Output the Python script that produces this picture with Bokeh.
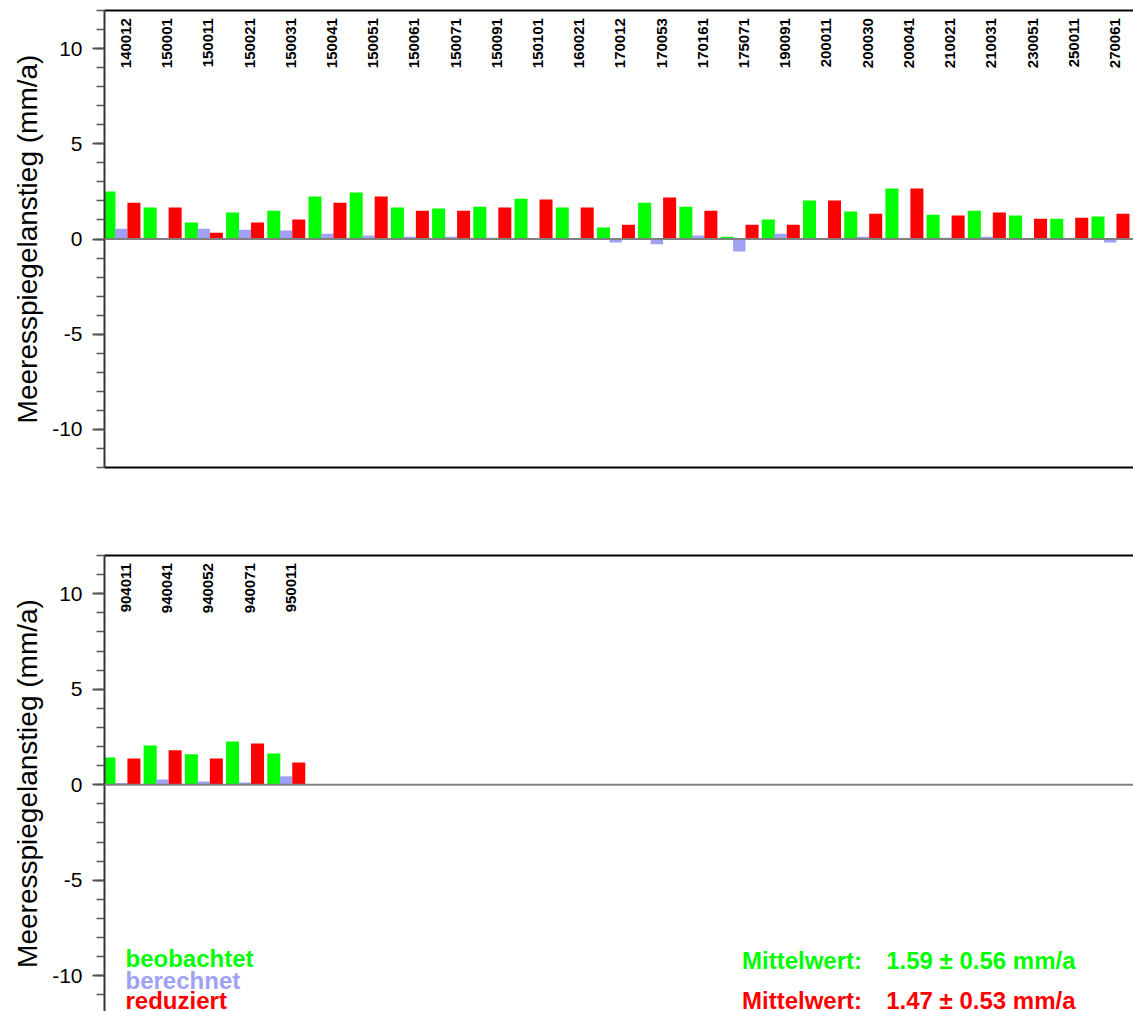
import numpy as np
from bokeh.plotting import figure
from bokeh.models import Range1d, FixedTicker, LinearAxis, Span
from bokeh.layouts import column
from bokeh.embed import file_html
from bokeh.resources import INLINE
from bokeh.core.properties import value

# ---------------- data ----------------
stations_top = ["140012", "150001", "150011", "150021", "150031", "150041", "150051",
                "150061", "150071", "150091", "150101", "160021", "170012", "170053",
                "170161", "175071", "190091", "200011", "200030", "200041", "210021",
                "210031", "230051", "250011", "270061"]
beobachtet_top = [2.49, 1.65, 0.86, 1.39, 1.49, 2.23, 2.44, 1.65, 1.60, 1.70, 2.12, 1.65, 0.60,
                  1.91, 1.70, 0.12, 1.02, 2.02, 1.44, 2.65, 1.28, 1.49, 1.23, 1.07, 1.18]
berechnet_top = [0.54, 0.00, 0.54, 0.49, 0.44, 0.28, 0.18, 0.12, 0.12, 0.07, 0.02, 0.00, -0.18,
                 -0.28, 0.18, -0.65, 0.28, 0.02, 0.12, -0.02, 0.07, 0.12, 0.00, -0.03, -0.18]
reduziert_top = [1.91, 1.65, 0.33, 0.86, 1.02, 1.91, 2.23, 1.49, 1.49, 1.65, 2.07, 1.65, 0.75,
                 2.18, 1.49, 0.75, 0.75, 2.02, 1.33, 2.65, 1.23, 1.39, 1.07, 1.12, 1.33]

stations_bottom = ["904011", "940041", "940052", "940071", "950011"]
beobachtet_bottom = [1.43, 2.06, 1.59, 2.27, 1.64]
berechnet_bottom = [0.09, 0.28, 0.17, 0.12, 0.44]
reduziert_bottom = [1.38, 1.80, 1.38, 2.16, 1.17]

y_major_ticks = [-10, -5, 0, 5, 10]
y_tick_labels = ["-10", "-5", "0", "5", "10"]
y_minor_ticks = list(range(-12, 13))
y_label = "Meeresspiegelanstieg (mm/a)"
legend_labels = ["beobachtet", "berechnet", "reduziert"]
mean_prefix = ["Mittelwert:", "Mittelwert:"]
mean_values = ["1.59 \u00b1 0.56 mm/a", "1.47 \u00b1 0.53 mm/a"]

GREEN = "#00ff00"
BLUE = "#a0a0f5"
RED = "#ff0000"
FONT = "Liberation Sans"
SLOTS = 25


def make_panel(stations, obs, calc, red, y_start, frame_h, mb_top, mb_bottom, bottom_line):
    p = figure(frame_width=1029, frame_height=frame_h,
               x_range=Range1d(0.05, SLOTS + 0.02), y_range=Range1d(y_start, 12),
               output_backend="svg", toolbar_location=None,
               x_axis_location=None, y_axis_location="left",
               min_border_left=104, min_border_right=0,
               min_border_top=mb_top, min_border_bottom=mb_bottom)
    p.grid.visible = False
    p.outline_line_color = None
    p.background_fill_color = "white"
    p.border_fill_color = "white"

    idx = np.arange(len(stations))
    p.vbar(x=idx + 0.158, top=obs, bottom=0, width=0.316, fill_color=GREEN, line_color=None)
    p.vbar(x=idx + 0.455, top=calc, bottom=0, width=0.300, fill_color=BLUE, line_color=None)
    p.vbar(x=idx + 0.764, top=red, bottom=0, width=0.316, fill_color=RED, line_color=None)

    p.text(x=idx + 0.57, y=[11.6] * len(stations), text=stations, angle=np.pi / 2,
           text_align="right", text_baseline="middle", text_font=value(FONT),
           text_font_style="bold", text_font_size="15px", text_color="black")

    p.add_layout(Span(location=0, dimension="width", line_color="#808080", line_width=2))

    ya = p.yaxis[0]
    ya.ticker = FixedTicker(ticks=y_major_ticks, minor_ticks=y_minor_ticks)
    ya.major_label_overrides = dict(zip(y_major_ticks, y_tick_labels))
    ya.axis_label = y_label
    ya.axis_label_text_font = FONT
    ya.axis_label_text_font_size = "28px"
    ya.axis_label_text_font_style = "normal"
    ya.axis_label_text_color = "black"
    ya.axis_label_standoff = 6
    ya.major_label_text_font = FONT
    ya.major_label_text_font_size = "21px"
    ya.major_label_text_color = "black"
    ya.major_label_standoff = 10
    ya.axis_line_color = "#333333"
    ya.axis_line_width = 2
    ya.major_tick_line_color = "#555555"
    ya.major_tick_line_width = 2
    ya.major_tick_out = 12
    ya.major_tick_in = 0
    ya.minor_tick_line_color = "#555555"
    ya.minor_tick_line_width = 1.5
    ya.minor_tick_out = 8
    ya.minor_tick_in = 0

    top_axis = LinearAxis(ticker=FixedTicker(ticks=[]), axis_line_color="black",
                          axis_line_width=2, major_tick_out=0, major_tick_in=0,
                          minor_tick_out=0, minor_tick_in=0, major_label_standoff=0)
    p.add_layout(top_axis, "above")
    if bottom_line:
        bot_axis = LinearAxis(ticker=FixedTicker(ticks=[]), axis_line_color="black",
                              axis_line_width=2, major_tick_out=0, major_tick_in=0,
                              minor_tick_out=0, minor_tick_in=0, major_label_standoff=0)
        p.add_layout(bot_axis, "below")
    return p


p1 = make_panel(stations_top, beobachtet_top, berechnet_top, reduziert_top,
                -12, 457, 10, 40, True)
p2 = make_panel(stations_bottom, beobachtet_bottom, berechnet_bottom, reduziert_bottom,
                -11.87, 456, 48, 0, False)

# legend texts in lower panel
leg_y = [-9.12, -10.25, -11.28]
p2.text(x=[0.56] * 3, y=leg_y, text=legend_labels, text_color=[GREEN, BLUE, RED],
        text_align="left", text_baseline="alphabetic", text_font=value(FONT),
        text_font_style="bold", text_font_size="24px")
mean_y = [-9.2, -11.28]
p2.text(x=[15.52] * 2, y=mean_y, text=mean_prefix, text_color=[GREEN, RED],
        text_align="left", text_baseline="alphabetic", text_font=value(FONT),
        text_font_style="bold", text_font_size="24px")
p2.text(x=[19.02] * 2, y=mean_y, text=mean_values, text_color=[GREEN, RED],
        text_align="left", text_baseline="alphabetic", text_font=value(FONT),
        text_font_style="bold", text_font_size="24px")

layout = column(p1, p2, spacing=0)
open("out.html", "w").write(file_html(layout, INLINE))
